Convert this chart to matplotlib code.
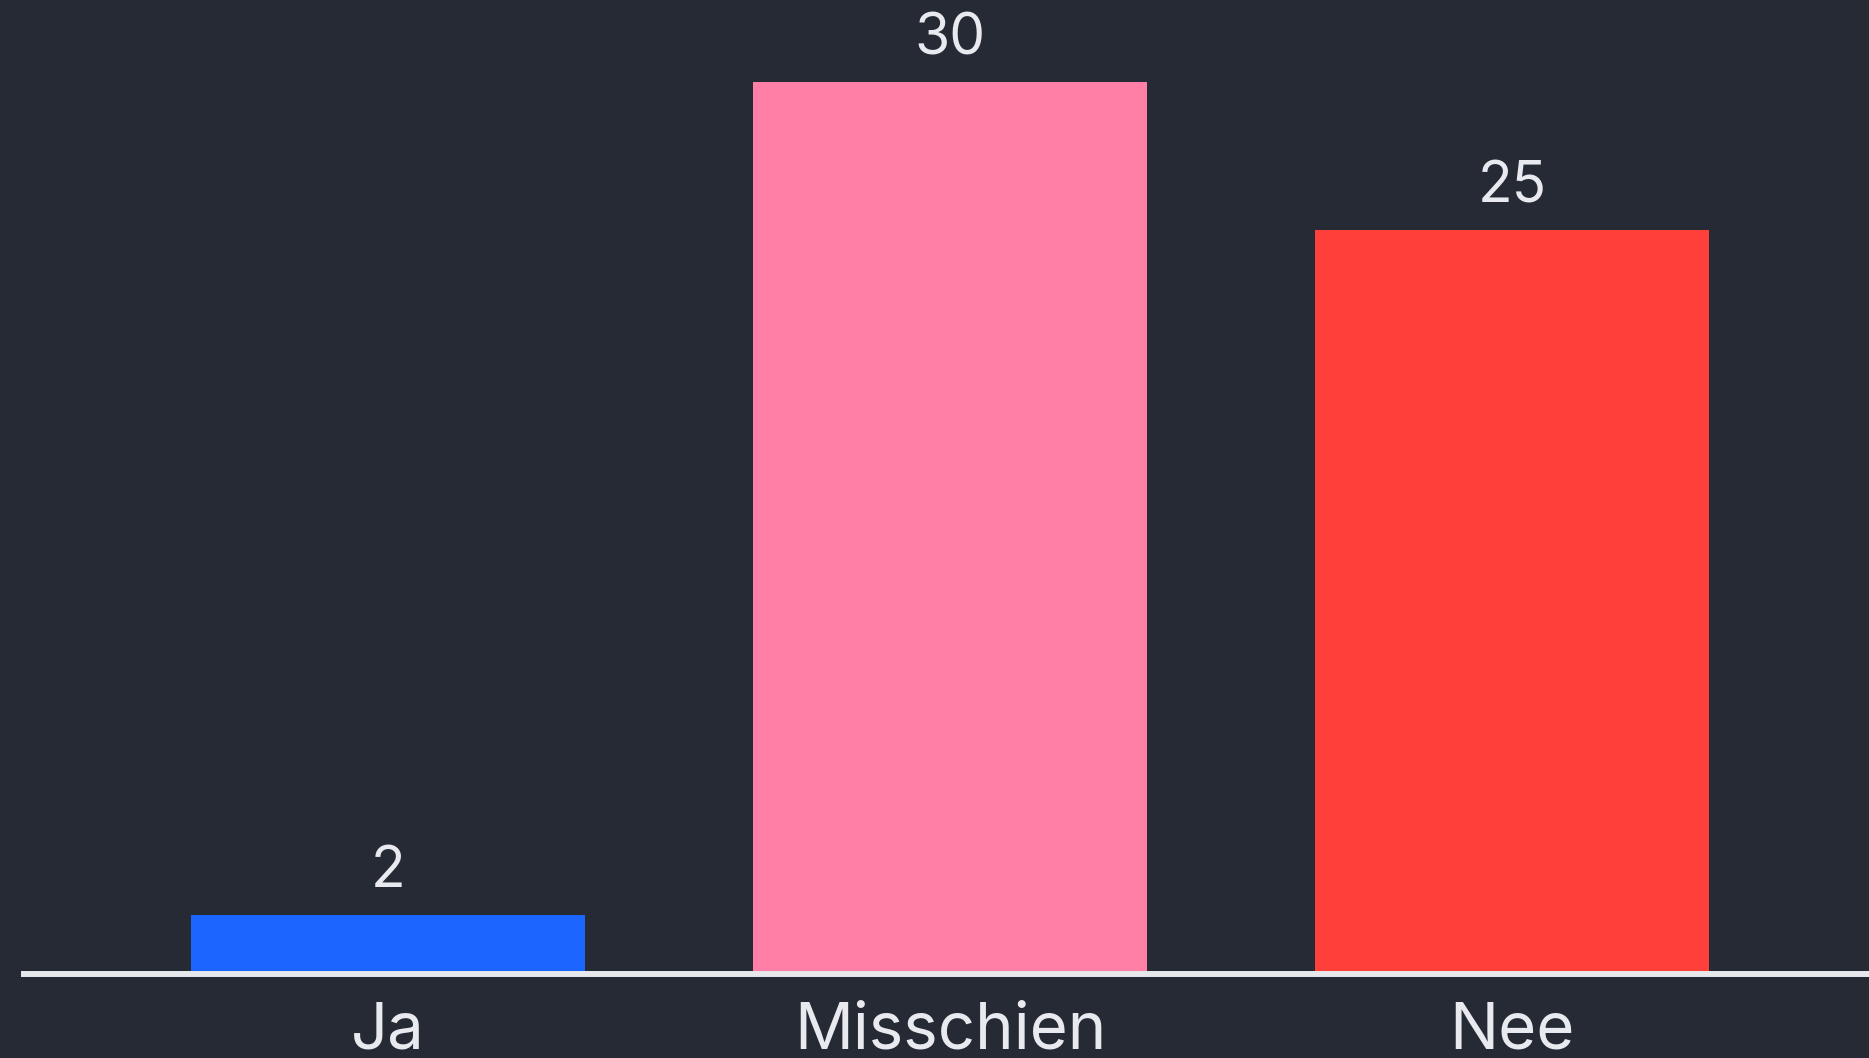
import matplotlib
matplotlib.use('Agg')
import matplotlib.pyplot as plt

# данные
categories = ['Ja', 'Misschien', 'Nee']
values = [2, 30, 25]
colors = ['#1a66ff', '#ff7fa7', '#ff403a']

bg = '#252a34'
text_color = '#e8eaef'

plt.rcParams['font.family'] = ['Inter', 'DejaVu Sans']

fig = plt.figure(figsize=(18.69, 10.58), dpi=100)
fig.patch.set_facecolor(bg)

# оси занимают почти всю ширину, нижняя линия на высоте ~974 px
ax = fig.add_axes([24 / 1869, 1 - 974 / 1058, 1 - 24 / 1869, 974 / 1058])
ax.set_facecolor(bg)

x = range(len(categories))
bars = ax.bar(x, values, width=0.70, color=colors, zorder=2)

ax.set_xlim(-0.648, 2.635)
ax.set_ylim(0, 974 / 29.75)

for b, v in zip(bars, values):
    ax.annotate(str(v), (b.get_x() + b.get_width() / 2, v),
                xytext=(0, 11), textcoords='offset points',
                ha='center', va='bottom', fontsize=41, color=text_color)

for s in ['top', 'right', 'left']:
    ax.spines[s].set_visible(False)
ax.spines['bottom'].set_color('#e6e8ec')
ax.spines['bottom'].set_linewidth(4.3)
ax.spines['bottom'].set_zorder(3)

ax.set_yticks([])
ax.set_xticks(list(x))
ax.set_xticklabels(categories, fontsize=47, color=text_color)
ax.tick_params(axis='x', length=0, pad=20)

fig.savefig('out.png', dpi=100, facecolor=bg)
